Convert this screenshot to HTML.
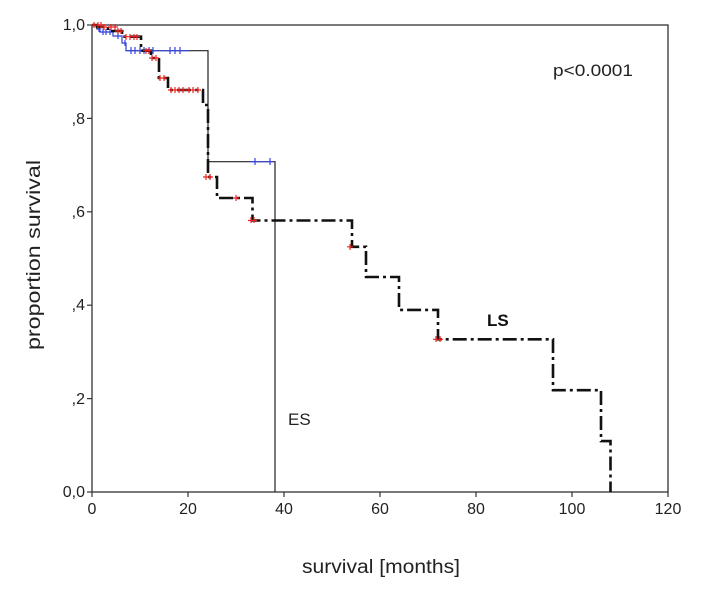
<!DOCTYPE html>
<html><head><meta charset="utf-8"><style>
html,body{margin:0;padding:0;background:#fff;}
svg{display:block;font-family:"Liberation Sans",Arial,sans-serif;}
</style></head><body>
<svg width="713" height="591" viewBox="0 0 713 591">
<rect x="92" y="25" width="576" height="467" fill="none" stroke="#333" stroke-width="1.3"/>
<g stroke="#333" stroke-width="1.2">
<line x1="92" y1="492" x2="92" y2="497"/><line x1="188" y1="492" x2="188" y2="497"/><line x1="284" y1="492" x2="284" y2="497"/><line x1="380" y1="492" x2="380" y2="497"/><line x1="476" y1="492" x2="476" y2="497"/><line x1="572" y1="492" x2="572" y2="497"/><line x1="668" y1="492" x2="668" y2="497"/>
<line x1="87" y1="492" x2="92" y2="492"/><line x1="87" y1="398.6" x2="92" y2="398.6"/><line x1="87" y1="305.2" x2="92" y2="305.2"/><line x1="87" y1="211.8" x2="92" y2="211.8"/><line x1="87" y1="118.4" x2="92" y2="118.4"/><line x1="87" y1="25" x2="92" y2="25"/>
</g>
<g font-size="16" fill="#222" text-anchor="middle">
<text x="92" y="514">0</text><text x="188" y="514">20</text><text x="284" y="514">40</text><text x="380" y="514">60</text><text x="476" y="514">80</text><text x="572" y="514">100</text><text x="668" y="514">120</text>
</g>
<g font-size="16" fill="#222" text-anchor="end">
<text x="85" y="497">0,0</text><text x="85" y="404">,2</text><text x="85" y="310">,4</text><text x="85" y="217">,6</text><text x="85" y="124">,8</text><text x="85" y="30">1,0</text>
</g>
<text x="302" y="573" font-size="19" fill="#222" textLength="158" lengthAdjust="spacingAndGlyphs">survival [months]</text>
<text transform="translate(40,350) rotate(-90)" font-size="19" fill="#222" textLength="190" lengthAdjust="spacingAndGlyphs">proportion survival</text>
<text x="553" y="76" font-size="17" fill="#222" textLength="80" lengthAdjust="spacingAndGlyphs">p&lt;0.0001</text>
<text x="487" y="326" font-size="17" font-weight="bold" fill="#111">LS</text>
<text x="288" y="425" font-size="17" fill="#222">ES</text>
<!-- ES -->
<polyline fill="none" stroke="#222" stroke-width="1.2" points="92,25 97,25 97,29 100,29 100,32 113,32 113,36 122,36 122,43 126,43 126,50.7 208,50.7 208,161.7 275,161.7 275,492"/>
<polyline fill="none" stroke="#3344ee" stroke-width="1" points="97,29 100,29 100,32 113,32 113,36 122,36 122,43 126,43 126,50.7 190,50.7"/>
<polyline fill="none" stroke="#3344ee" stroke-width="1" points="250,161.7 273,161.7"/>
<g stroke="#3344ee" stroke-width="1.2">
<path d="M99 26v6M103 29v6M106 29v6M110 29v6M118 33v6M125 40v6M131 47v7M135 47v7M140 47v7M144 47v7M149 47v7M153 47v7M170 47v7M175 47v7M180 47v7M255 158v7M270 158v7"/>
</g>
<!-- LS -->
<polyline fill="none" stroke="#111" stroke-width="2.6" stroke-dasharray="14,4,3,4" points="92,25 97,25 97,27 108,27 108,31 122,31 122,36.7 141,36.7 141,50.7 151,50.7 151,58 159,58 159,78 168,78 168,90 203,90 203,105 208,105 208,177 217,177 217,198 252.5,198 252.5,220.5 352,220.5 352,246.8 366,246.8 366,277 399,277 399,309.9 438,309.9 438,339.3 553,339.3 553,390.2 601,390.2 601,441.1 610.5,441.1 610.5,492"/>
<g stroke="#ee2222" stroke-width="1.2">
<path d="M94 22v6M98 22v6M101 22v6M104 24v6M111 24v6M115 24v6M118 28v6M121 28v6M126 34v6M130 34v6M134 34v6M137 34v6M146 48v6M149 48v6M152 55v6M156 55v6M160 75v6M164 75v6M171 87v6M175 87v6M179 87v6M183 87v6M189 87v6M193 87v6M198 87v6M206 174v6M210 174v6M236 195v6M251 217v6M254 217v6M350 244v6M440 336v6M436 336v6"/>
<path d="M91 25h6M95 25h6M100 25h6M101 27h6M108 27h6M112 27h6M115 31h6M118 31h6M123 36.7h6M127 36.7h6M131 36.7h6M134 36.7h6M143 50.7h6M146 50.7h6M149 58h6M153 58h6M157 78h6M161 78h6M168 90h6M172 90h6M176 90h6M180 90h6M186 90h6M190 90h6M195 90h6M203 177h6M207 177h6M233 198h6M248 220.5h6M251 220.5h6M347 246.8h6M437 339.3h6M433 339.3h6"/>
</g>
</svg>
</body></html>
